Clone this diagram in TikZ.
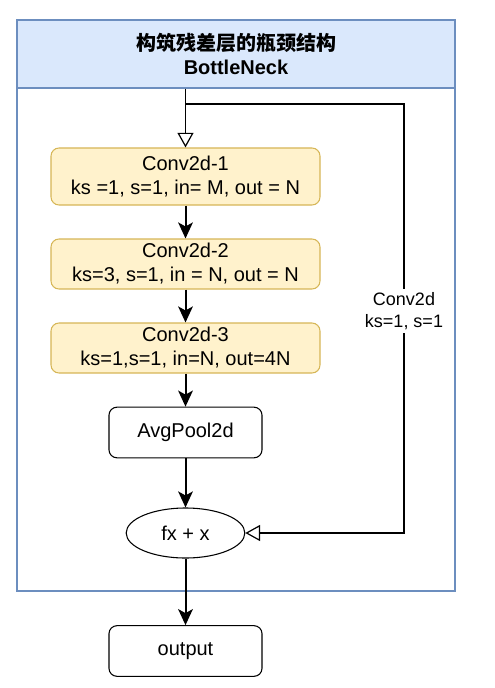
\documentclass[tikz,border=0pt]{standalone}
\usepackage{fontspec}
\setmainfont{Liberation Sans}
\newfontfamily\cjk{Noto Sans CJK SC}
\usetikzlibrary{shapes,arrows.meta,positioning,calc}
\definecolor{headfill}{HTML}{DAE8FC}
\definecolor{headline}{HTML}{6C8EBF}
\definecolor{convfill}{HTML}{FFF2CC}
\definecolor{convline}{HTML}{D6B656}

\begin{document}
\begin{tikzpicture}[x=0.75pt, y=-0.75pt,
    every node/.style={font=\fontsize{15pt}{18pt}\selectfont, align=center, inner sep=0pt},
    convbox/.style={rectangle, rounded corners=6pt, draw=convline, fill=convfill, line width=0.8pt, minimum width=201.75pt},
    plainbox/.style={rectangle, rounded corners=6pt, draw, line width=0.8pt, minimum width=114.75pt, minimum height=38pt},
    flow/.style={line width=1.5pt, -{Stealth[length=12pt, width=11pt, inset=3pt]}},
    skip/.style={line width=0.9pt, -{Triangle[open, length=11pt, width=12pt]}}]
    \useasboundingbox (0,0) rectangle (494,688);
    % container with its title band
    \draw[headline, line width=0.8pt] (17,20) rectangle (455,591);
    \node[rectangle, draw=headline, fill=headfill, line width=0.8pt, minimum width=328.5pt, minimum height=51pt] (head) at (236,54)
        {{\cjk\bfseries 构筑残差层的瓶颈结构}\\\bfseries BottleNeck};
    \node[convbox, minimum height=42.75pt] (conv1) at (185.5,176.5) {Conv2d-1\\ks =1, s=1, in= M, out = N};
    \node[convbox, minimum height=37.5pt] (conv2) at (185.5,264) {Conv2d-2\\ks=3, s=1, in = N, out = N};
    \node[convbox, minimum height=37.5pt] (conv3) at (185.5,348) {Conv2d-3\\ks=1,s=1, in=N, out=4N};
    \node[plainbox] (pool) at (185.5,432.5) {AvgPool2d};
    \node[ellipse, draw, line width=0.8pt, minimum width=89pt, minimum height=37.5pt] (add) at (185.5,533) {fx + x};
    \node[plainbox] (out) at (185.5,651) {output};
    \coordinate (split) at (185.5,104);
    \coordinate (right) at (404,104);
    \coordinate (down) at (404,533);
    % main path
    \draw[skip] (head.south -| split) -- (conv1.north);
    \draw[flow] (conv1) -- (conv2);
    \draw[flow] (conv2) -- (conv3);
    \draw[flow] (conv3) -- (pool);
    \draw[flow] (pool) -- (add);
    \draw[flow] (add) -- (out);
    % shortcut
    \draw[skip] (split) -- (right) -- (down) -- (add.east);
    \node[fill=white, inner sep=2pt, font=\fontsize{13.5pt}{17pt}\selectfont] (short) at (404,311) {Conv2d\\ks=1, s=1};
\end{tikzpicture}
\end{document}
